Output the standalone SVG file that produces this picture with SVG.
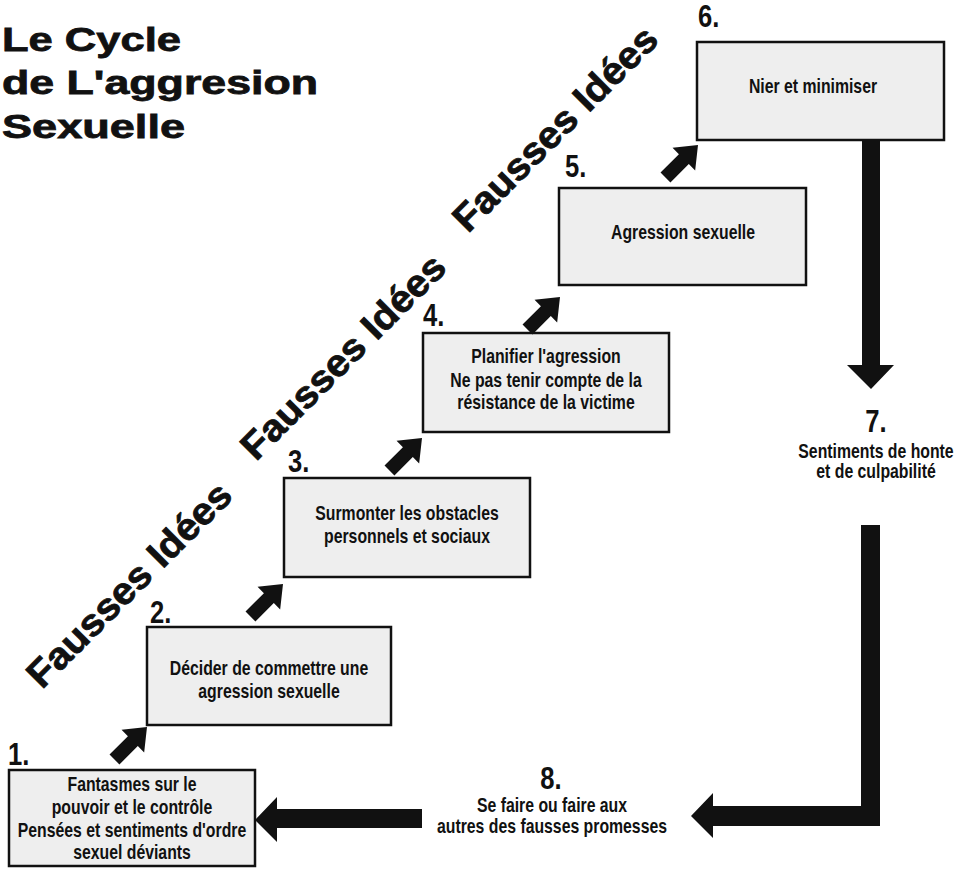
<svg xmlns="http://www.w3.org/2000/svg" width="965" height="872" viewBox="0 0 965 872">
<style>
.bx{fill:#eeeeee;stroke:#111;stroke-width:2.5}
.t{font-family:"Liberation Sans",Arial,sans-serif;font-weight:bold;font-size:20px;text-anchor:middle;fill:#111}
.n{font-family:"Liberation Sans",Arial,sans-serif;font-weight:bold;font-size:32px;fill:#111}
.ti{font-family:"Liberation Sans",Arial,sans-serif;font-weight:bold;font-size:34px;fill:#111;stroke:#111;stroke-width:0.8}
.fi{font-family:"Liberation Sans",Arial,sans-serif;font-weight:bold;font-size:38px;fill:#111;stroke:#111;stroke-width:0.8}
.ar{fill:#111}
</style>
<defs>
<path id="sarrow" d="M-46,-7 L-20,-7 L-20,-16 L0,0 L-20,16 L-20,7 L-46,7 Z"/>
</defs>
<rect width="965" height="872" fill="#ffffff"/>
<g id="title">
<text class="ti" x="2" y="51" textLength="179" lengthAdjust="spacingAndGlyphs">Le Cycle</text>
<text class="ti" x="2" y="94" textLength="316" lengthAdjust="spacingAndGlyphs">de L'aggresion</text>
<text class="ti" x="2" y="138" textLength="183" lengthAdjust="spacingAndGlyphs">Sexuelle</text>
</g>
<g id="fausses-idees">
<text class="fi" transform="translate(42,690) rotate(-45)" textLength="272" lengthAdjust="spacingAndGlyphs">Fausses Idées</text>
<text class="fi" transform="translate(256,462) rotate(-45)" textLength="272" lengthAdjust="spacingAndGlyphs">Fausses Idées</text>
<text class="fi" transform="translate(468,234) rotate(-45)" textLength="272" lengthAdjust="spacingAndGlyphs">Fausses Idées</text>
</g>
<g id="node1">
<text class="n" transform="matrix(0.8,0,0,1,8,0)" y="765">1.</text>
<rect class="bx" x="9" y="770" width="246" height="96"/>
<text class="t" transform="matrix(0.79,0,0,1,132,0)" y="791">Fantasmes sur le</text>
<text class="t" transform="matrix(0.79,0,0,1,132,0)" y="814">pouvoir et le contrôle</text>
<text class="t" transform="matrix(0.79,0,0,1,132,0)" y="837">Pensées et sentiments d'ordre</text>
<text class="t" transform="matrix(0.79,0,0,1,132,0)" y="859">sexuel déviants</text>
</g>
<g id="node2">
<text class="n" transform="matrix(0.8,0,0,1,150,0)" y="623">2.</text>
<rect class="bx" x="147" y="627" width="244" height="98"/>
<text class="t" transform="matrix(0.79,0,0,1,269,0)" y="675">Décider de commettre une</text>
<text class="t" transform="matrix(0.79,0,0,1,269,0)" y="698">agression sexuelle</text>
</g>
<g id="node3">
<text class="n" transform="matrix(0.8,0,0,1,288,0)" y="472">3.</text>
<rect class="bx" x="284" y="478" width="246" height="99"/>
<text class="t" transform="matrix(0.79,0,0,1,407,0)" y="520">Surmonter les obstacles</text>
<text class="t" transform="matrix(0.79,0,0,1,407,0)" y="543">personnels et sociaux</text>
</g>
<g id="node4">
<text class="n" transform="matrix(0.8,0,0,1,423,0)" y="326">4.</text>
<rect class="bx" x="423" y="333" width="246" height="99"/>
<text class="t" transform="matrix(0.79,0,0,1,546,0)" y="363">Planifier l'agression</text>
<text class="t" transform="matrix(0.79,0,0,1,546,0)" y="387">Ne pas tenir compte de la</text>
<text class="t" transform="matrix(0.79,0,0,1,546,0)" y="409">résistance de la victime</text>
</g>
<g id="node5">
<text class="n" transform="matrix(0.8,0,0,1,565,0)" y="177">5.</text>
<rect class="bx" x="559" y="188" width="247" height="97"/>
<text class="t" transform="matrix(0.79,0,0,1,683,0)" y="239">Agression sexuelle</text>
</g>
<g id="node6">
<text class="n" transform="matrix(0.8,0,0,1,698,0)" y="27">6.</text>
<rect class="bx" x="697" y="42" width="247" height="98"/>
<text class="t" transform="matrix(0.79,0,0,1,813,0)" y="93">Nier et minimiser</text>
</g>
<g id="node7">
<text class="n" transform="matrix(0.8,0,0,1,876,0)" y="432" text-anchor="middle">7.</text>
<text class="t" transform="matrix(0.79,0,0,1,876,0)" y="458">Sentiments de honte</text>
<text class="t" transform="matrix(0.79,0,0,1,876,0)" y="478">et de culpabilité</text>
</g>
<g id="node8">
<text class="n" transform="matrix(0.8,0,0,1,551,0)" y="789" text-anchor="middle">8.</text>
<text class="t" transform="matrix(0.79,0,0,1,552,0)" y="812">Se faire ou faire aux</text>
<text class="t" transform="matrix(0.79,0,0,1,552,0)" y="833">autres des fausses promesses</text>
</g>
<g id="connectors">
<use href="#sarrow" class="ar" transform="translate(147,727) rotate(-45)"/>
<use href="#sarrow" class="ar" transform="translate(283,584) rotate(-45)"/>
<use href="#sarrow" class="ar" transform="translate(422,438) rotate(-45)"/>
<use href="#sarrow" class="ar" transform="translate(560,297) rotate(-45)"/>
<use href="#sarrow" class="ar" transform="translate(698,145) rotate(-45)"/>
<path class="ar" d="M862,140 L880,140 L880,365 L894,365 L871,389 L847,365 L862,365 Z"/>
<path class="ar" d="M861,525 L880,525 L880,826 L713,826 L713,838 L691,816 L713,793 L713,806 L861,806 Z"/>
<path class="ar" d="M422,809 L422,828 L277,828 L277,842 L255,820 L277,797 L277,809 Z"/>
</g>
</svg>
